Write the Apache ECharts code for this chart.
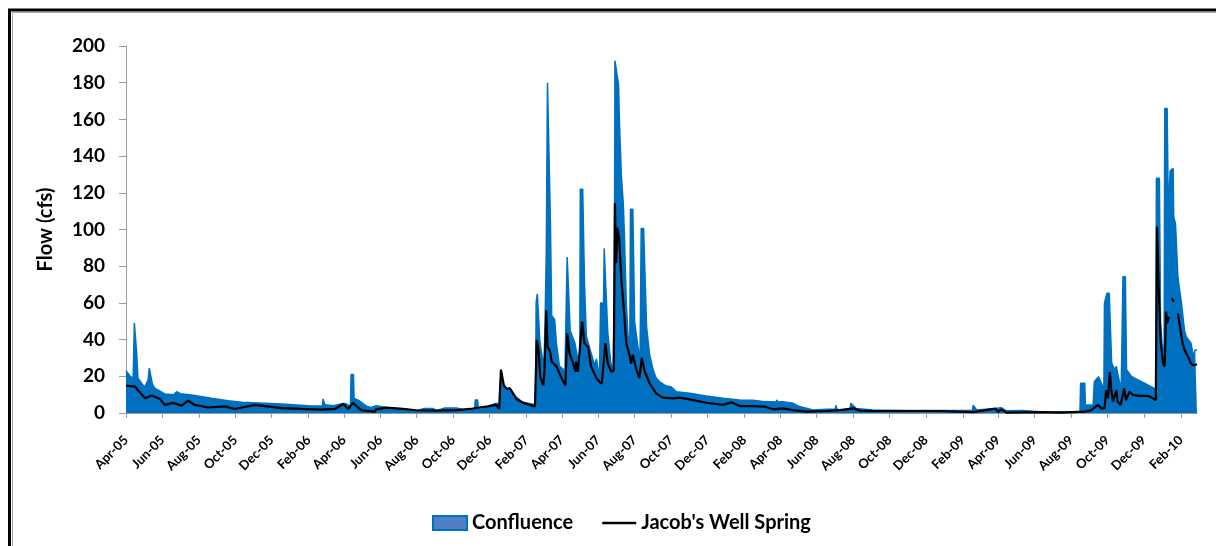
<!DOCTYPE html>
<html><head><meta charset="utf-8">
<script src="https://cdn.jsdelivr.net/npm/echarts@6/dist/echarts.min.js"></script>
<style>html,body{margin:0;padding:0;background:#fff;overflow:hidden}#c{width:1216px;height:546px}</style>
</head><body><div id="c"></div>
<script>
const tickDates = ['2005-04-01','2005-06-01','2005-08-01','2005-10-01','2005-12-01',
  '2006-02-01','2006-04-01','2006-06-01','2006-08-01','2006-10-01','2006-12-01',
  '2007-02-01','2007-04-01','2007-06-01','2007-08-01','2007-10-01','2007-12-01',
  '2008-02-01','2008-04-01','2008-06-01','2008-08-01','2008-10-01','2008-12-01',
  '2009-02-01','2009-04-01','2009-06-01','2009-08-01','2009-10-01','2009-12-01','2010-02-01'];
const tickLabels = ['Apr-05','Jun-05','Aug-05','Oct-05','Dec-05',
  'Feb-06','Apr-06','Jun-06','Aug-06','Oct-06','Dec-06',
  'Feb-07','Apr-07','Jun-07','Aug-07','Oct-07','Dec-07',
  'Feb-08','Apr-08','Jun-08','Aug-08','Oct-08','Dec-08',
  'Feb-09','Apr-09','Jun-09','Aug-09','Oct-09','Dec-09','Feb-10'];

const confluenceDates = [
 '2005-04-01','2005-04-08','2005-04-13','2005-04-15','2005-04-17','2005-04-19','2005-04-21','2005-05-02','2005-05-08','2005-05-10',
 '2005-05-13','2005-05-15','2005-05-19','2005-06-05','2005-06-20','2005-06-25','2005-07-01','2005-07-20','2005-08-22','2005-09-19',
 '2005-10-12','2005-11-09','2005-12-18','2006-02-01','2006-02-24','2006-02-25','2006-02-27','2006-02-28','2006-03-15','2006-03-30',
 '2006-04-05','2006-04-12','2006-04-13','2006-04-17','2006-04-18','2006-04-25','2006-05-10','2006-05-17','2006-05-25','2006-06-11',
 '2006-07-09','2006-07-31','2006-08-14','2006-08-28','2006-09-03','2006-09-17','2006-10-07','2006-10-18','2006-11-06','2006-11-07',
 '2006-11-11','2006-11-12','2006-11-20','2006-12-01','2006-12-12','2006-12-19','2006-12-20','2006-12-23','2006-12-26','2006-12-29',
 '2007-01-04','2007-01-15','2007-01-26','2007-02-16','2007-02-17','2007-02-19','2007-02-21','2007-02-23','2007-02-25','2007-03-02',
 '2007-03-04','2007-03-06','2007-03-08','2007-03-11','2007-03-13','2007-03-15','2007-03-20','2007-03-23','2007-03-28','2007-04-03',
 '2007-04-06','2007-04-09','2007-04-10','2007-04-13','2007-04-15','2007-04-23','2007-04-28','2007-05-01','2007-05-02','2007-05-06',
 '2007-05-09','2007-05-12','2007-05-18','2007-05-26','2007-05-29','2007-06-03','2007-06-05','2007-06-10','2007-06-11','2007-06-14',
 '2007-06-17','2007-06-22','2007-06-26','2007-06-28','2007-06-29','2007-07-02','2007-07-05','2007-07-07','2007-07-10','2007-07-13',
 '2007-07-15','2007-07-18','2007-07-21','2007-07-24','2007-07-25','2007-07-29','2007-08-01','2007-08-07','2007-08-10','2007-08-12',
 '2007-08-16','2007-08-21','2007-08-26','2007-09-01','2007-09-06','2007-09-12','2007-09-23','2007-10-01','2007-10-10','2007-11-01',
 '2007-11-29','2007-12-27','2008-01-24','2008-02-15','2008-02-18','2008-03-06','2008-03-25','2008-03-26','2008-03-28','2008-04-05',
 '2008-04-22','2008-05-03','2008-05-26','2008-06-17','2008-07-02','2008-07-03','2008-07-05','2008-07-10','2008-07-27','2008-07-28',
 '2008-07-31','2008-08-06','2008-09-03','2008-10-29','2008-12-24','2009-02-17','2009-02-18','2009-02-20','2009-02-24','2009-03-27',
 '2009-04-06','2009-04-15','2009-05-12','2009-06-09','2009-07-13','2009-08-16','2009-08-17','2009-08-24','2009-08-25','2009-09-07',
 '2009-09-09','2009-09-16','2009-09-21','2009-09-25','2009-09-26','2009-09-29','2009-09-30','2009-10-04','2009-10-08','2009-10-13',
 '2009-10-16','2009-10-18','2009-10-24','2009-10-27','2009-10-31','2009-11-02','2009-11-10','2009-11-21','2009-12-02','2009-12-13',
 '2009-12-21','2009-12-22','2009-12-27','2009-12-29','2010-01-02','2010-01-04','2010-01-05','2010-01-09','2010-01-11','2010-01-14',
 '2010-01-19','2010-01-20','2010-01-23','2010-01-27','2010-02-02','2010-02-07','2010-02-10','2010-02-18','2010-02-22','2010-02-25',
 '2010-02-28'];
const confluenceValues = [
 23,20,19,49,49,32,19,14,18,24.5,
 24.5,16,13.5,10.4,10,11.6,10.5,9.8,8,6.7,
 5.8,5.5,4.9,4,3.8,7.6,7,4.5,4,5.2,
 5,3.5,21,21,8,7,3.5,3,4,3,
 2.2,1.3,2.5,2.5,1.3,2.7,2.7,1.8,2,7.1,
 7.1,2.2,2.2,4,5.3,4.5,23.6,16,15.5,13.5,
 13.5,8.5,5.8,4.5,60,65,65,40,35,25,
 50,87,180,180,103,53,51,38,25.6,24,
 19,20,85,85,45,38,29,21.4,122,122,
 71,42,35,26,29.5,18.7,60,60,89.7,89.7,
 44,27.5,23,60,192,192,179,154,128,114,
 95.6,60,42,40,111,111,49.5,35,27.5,100.6,
 100.6,47,32,23.4,19,17,14.7,14.3,11.6,10.7,
 9.3,8,7.1,7,7.6,6.2,6,7.1,6,6.2,
 5.3,3.5,1.6,2,2,4.2,2,1.6,2,5.3,
 5,2.5,1.6,1.4,1.4,1.4,4.2,4,1.6,2.5,
 2.9,1.2,1.3,0.7,0.7,0.8,16.2,16.2,4.4,4.4,
 17,19.8,16.2,12.5,59.8,59.8,65.2,65.2,27.3,23.6,
 25.4,21.8,12.5,74.3,74.3,23.6,20,18,16.2,14.3,
 13,127.9,127.9,48.9,30.7,38,166,166,107,132,
 133.3,107,103,74,59.8,45,41.6,38,30.7,34.4,
 34.4];

const jacobDates = [
 '2005-04-01','2005-04-10','2005-04-16','2005-04-19','2005-04-22','2005-05-03','2005-05-14','2005-05-28','2005-06-05','2005-06-19',
 '2005-07-03','2005-07-14','2005-07-25','2005-08-17','2005-09-14','2005-09-30','2005-11-03','2005-12-18','2006-01-20','2006-02-22',
 '2006-03-17','2006-03-31','2006-04-08','2006-04-16','2006-04-30','2006-05-23','2006-05-25','2006-06-11','2006-07-09','2006-07-31',
 '2006-09-03','2006-10-07','2006-10-29','2006-11-14','2006-11-28','2006-12-12','2006-12-17','2006-12-20','2006-12-25','2006-12-30',
 '2007-01-04','2007-01-15','2007-01-26','2007-02-15','2007-02-18','2007-02-21','2007-02-24','2007-03-01','2007-03-03','2007-03-06',
 '2007-03-08','2007-03-12','2007-03-15','2007-03-23','2007-03-31','2007-04-07','2007-04-10','2007-04-14','2007-04-20','2007-04-24',
 '2007-04-25','2007-04-28','2007-05-05','2007-05-09','2007-05-15','2007-05-20','2007-05-29','2007-06-03','2007-06-07','2007-06-13',
 '2007-06-17','2007-06-23','2007-06-27','2007-06-29','2007-07-01','2007-07-03','2007-07-06','2007-07-10','2007-07-15','2007-07-18',
 '2007-07-24','2007-07-26','2007-07-29','2007-08-04','2007-08-09','2007-08-13','2007-08-18','2007-08-26','2007-09-06','2007-09-17',
 '2007-10-04','2007-10-15','2007-11-01','2007-11-29','2007-12-27','2008-01-10','2008-01-24','2008-02-15','2008-03-06','2008-03-20',
 '2008-04-05','2008-04-22','2008-05-15','2008-06-17','2008-07-10','2008-08-01','2008-08-12','2008-09-03','2008-10-29','2008-12-24',
 '2009-02-18','2009-03-27','2009-04-01','2009-04-06','2009-04-15','2009-06-09','2009-07-13','2009-08-24','2009-09-04','2009-09-15',
 '2009-09-21','2009-09-26','2009-09-29','2009-10-02','2009-10-05','2009-10-07','2009-10-10','2009-10-16','2009-10-18','2009-10-23',
 '2009-10-29','2009-11-01','2009-11-07','2009-11-13','2009-11-24','2009-12-08','2009-12-16','2009-12-21','2009-12-23','2009-12-26',
 '2009-12-29','2010-01-02','2010-01-05','2010-01-07','2010-01-09','2010-01-12','2010-01-13','2010-01-17','2010-01-20','2010-01-22',
 '2010-01-27','2010-02-02','2010-02-04','2010-02-07','2010-02-10','2010-02-13','2010-02-18','2010-02-22','2010-02-25','2010-02-28'];
const jacobValues = [
 15,14.5,14.5,15.3,12,8,9.5,7.6,4.4,5.5,
 4,6.7,4.4,3,3.6,2.2,4.4,2.7,2.2,1.8,
 2.2,4.9,2.2,5.5,1.5,0.7,2,2.9,2.2,1.5,
 1.3,1.6,2.2,3,3.6,4.4,2.2,23.6,15,13,
 13.5,7.6,5.5,3.6,39.8,34,19.5,15,23,56,
 36,34,28,25.4,19.5,15,43.4,32.5,27,22.5,
 28,22.5,49.8,38,36,25.4,19,17,16,38,
 27,22.5,23,114.3,81.7,101,95,72,52,38,
 31,27,31.7,23.6,19,30,22.5,16.2,10.7,8.4,
 8,8.4,7.4,5.6,4.4,5.8,3.8,3.8,3.5,2,
 2.5,1.6,0.7,1.1,1.6,2.5,1.3,1.1,1.1,1.1,
 0.5,2.4,0.6,2,0.2,0.5,0.2,0.7,1.6,4.4,
 2.5,2.5,12.5,8,22.5,14,6.2,12.5,6.2,4.4,
 13.4,7,11.6,9.8,9.3,9.3,8,7,101.5,67,
 39.7,27,25.4,55.2,48.9,52.5,null,62.5,60.7,null,
 54.3,41.6,38,34.4,33.4,30.7,27,26,27,26.5];

function toTime(s) { const p = s.split('-').map(Number); return Date.UTC(p[0], p[1] - 1, p[2]); }
const tickTimes = tickDates.map(toTime);
const confluence = confluenceDates.map((d, i) => [toTime(d), confluenceValues[i]]);
const jacob = jacobDates.map((d, i) => [toTime(d), jacobValues[i] == null ? '-' : jacobValues[i]]);

const FONT = 'Lato, "Open Sans", sans-serif';
const chart = echarts.init(document.getElementById('c'), null, { renderer: 'canvas' });
chart.setOption({
  animation: false,
  backgroundColor: '#fff',
  graphic: [
    { type: 'polyline', shape: { points: [[9.5, 600], [9.5, 10], [1240, 10]] }, style: { stroke: '#000', lineWidth: 3, fill: null }, silent: true },
    { type: 'polyline', shape: { points: [[12.5, 600], [12.5, 12.5], [1240, 12.5]] }, style: { stroke: '#a6a6a6', lineWidth: 1, fill: null }, silent: true }
  ],
  grid: { left: 126, right: 19, top: 46, bottom: 133, containLabel: false },
  legend: {
    left: 427, top: 508, itemWidth: 34, itemHeight: 14, itemGap: 29,
    symbolKeepAspect: true,
    textStyle: { fontFamily: FONT, fontWeight: 'bold', fontSize: 20, color: '#000' },
    data: [
      { name: 'Confluence', icon: 'rect', itemStyle: { color: '#4f7fc4', borderColor: '#0070c0', borderWidth: 2 } },
      { name: "Jacob's Well Spring", icon: 'path://M0,0 L32,0 L32,2.2 L0,2.2 Z', itemStyle: { color: '#000', borderWidth: 0 } }
    ]
  },
  xAxis: {
    type: 'value',
    min: toTime('2005-04-01'),
    max: toTime('2010-02-28'),
    scale: true,
    axisLine: { show: true, onZero: false, lineStyle: { color: '#9a9a9a', width: 1 } },
    axisTick: { show: true, length: 5, lineStyle: { color: '#9a9a9a' }, customValues: tickTimes },
    splitLine: { show: false },
    axisLabel: {
      customValues: tickTimes,
      rotate: 45, margin: 25,
      fontFamily: FONT, fontWeight: 'bold', fontSize: 13, color: '#000',
      formatter: function (v) {
        let best = -1, bd = Infinity;
        for (let i = 0; i < tickTimes.length; i++) { const d = Math.abs(tickTimes[i] - v); if (d < bd) { bd = d; best = i; } }
        return bd < 86400000 * 3 ? tickLabels[best] : '';
      }
    }
  },
  yAxis: {
    type: 'value', min: 0, max: 200, interval: 20,
    name: 'Flow (cfs)', nameLocation: 'middle', nameGap: 70,
    nameTextStyle: { fontFamily: FONT, fontWeight: 'bold', fontSize: 20, color: '#000' },
    axisLine: { show: true, lineStyle: { color: '#9a9a9a', width: 1 } },
    axisTick: { show: true, length: 7, lineStyle: { color: '#9a9a9a' } },
    splitLine: { show: false },
    axisLabel: { margin: 21, fontFamily: FONT, fontWeight: 'bold', fontSize: 19, color: '#000' }
  },
  series: [
    {
      name: 'Confluence', type: 'line', data: confluence, symbol: 'none', z: 2,
      lineStyle: { color: '#0070c0', width: 1.5 },
      itemStyle: { color: '#0070c0' },
      areaStyle: { color: '#0070c0', opacity: 1 }
    },
    {
      name: "Jacob's Well Spring", type: 'line', data: jacob, symbol: 'none', z: 3,
      connectNulls: false,
      lineStyle: { color: '#000', width: 2.2 },
      itemStyle: { color: '#000' }
    }
  ]
});
</script>
</body></html>
